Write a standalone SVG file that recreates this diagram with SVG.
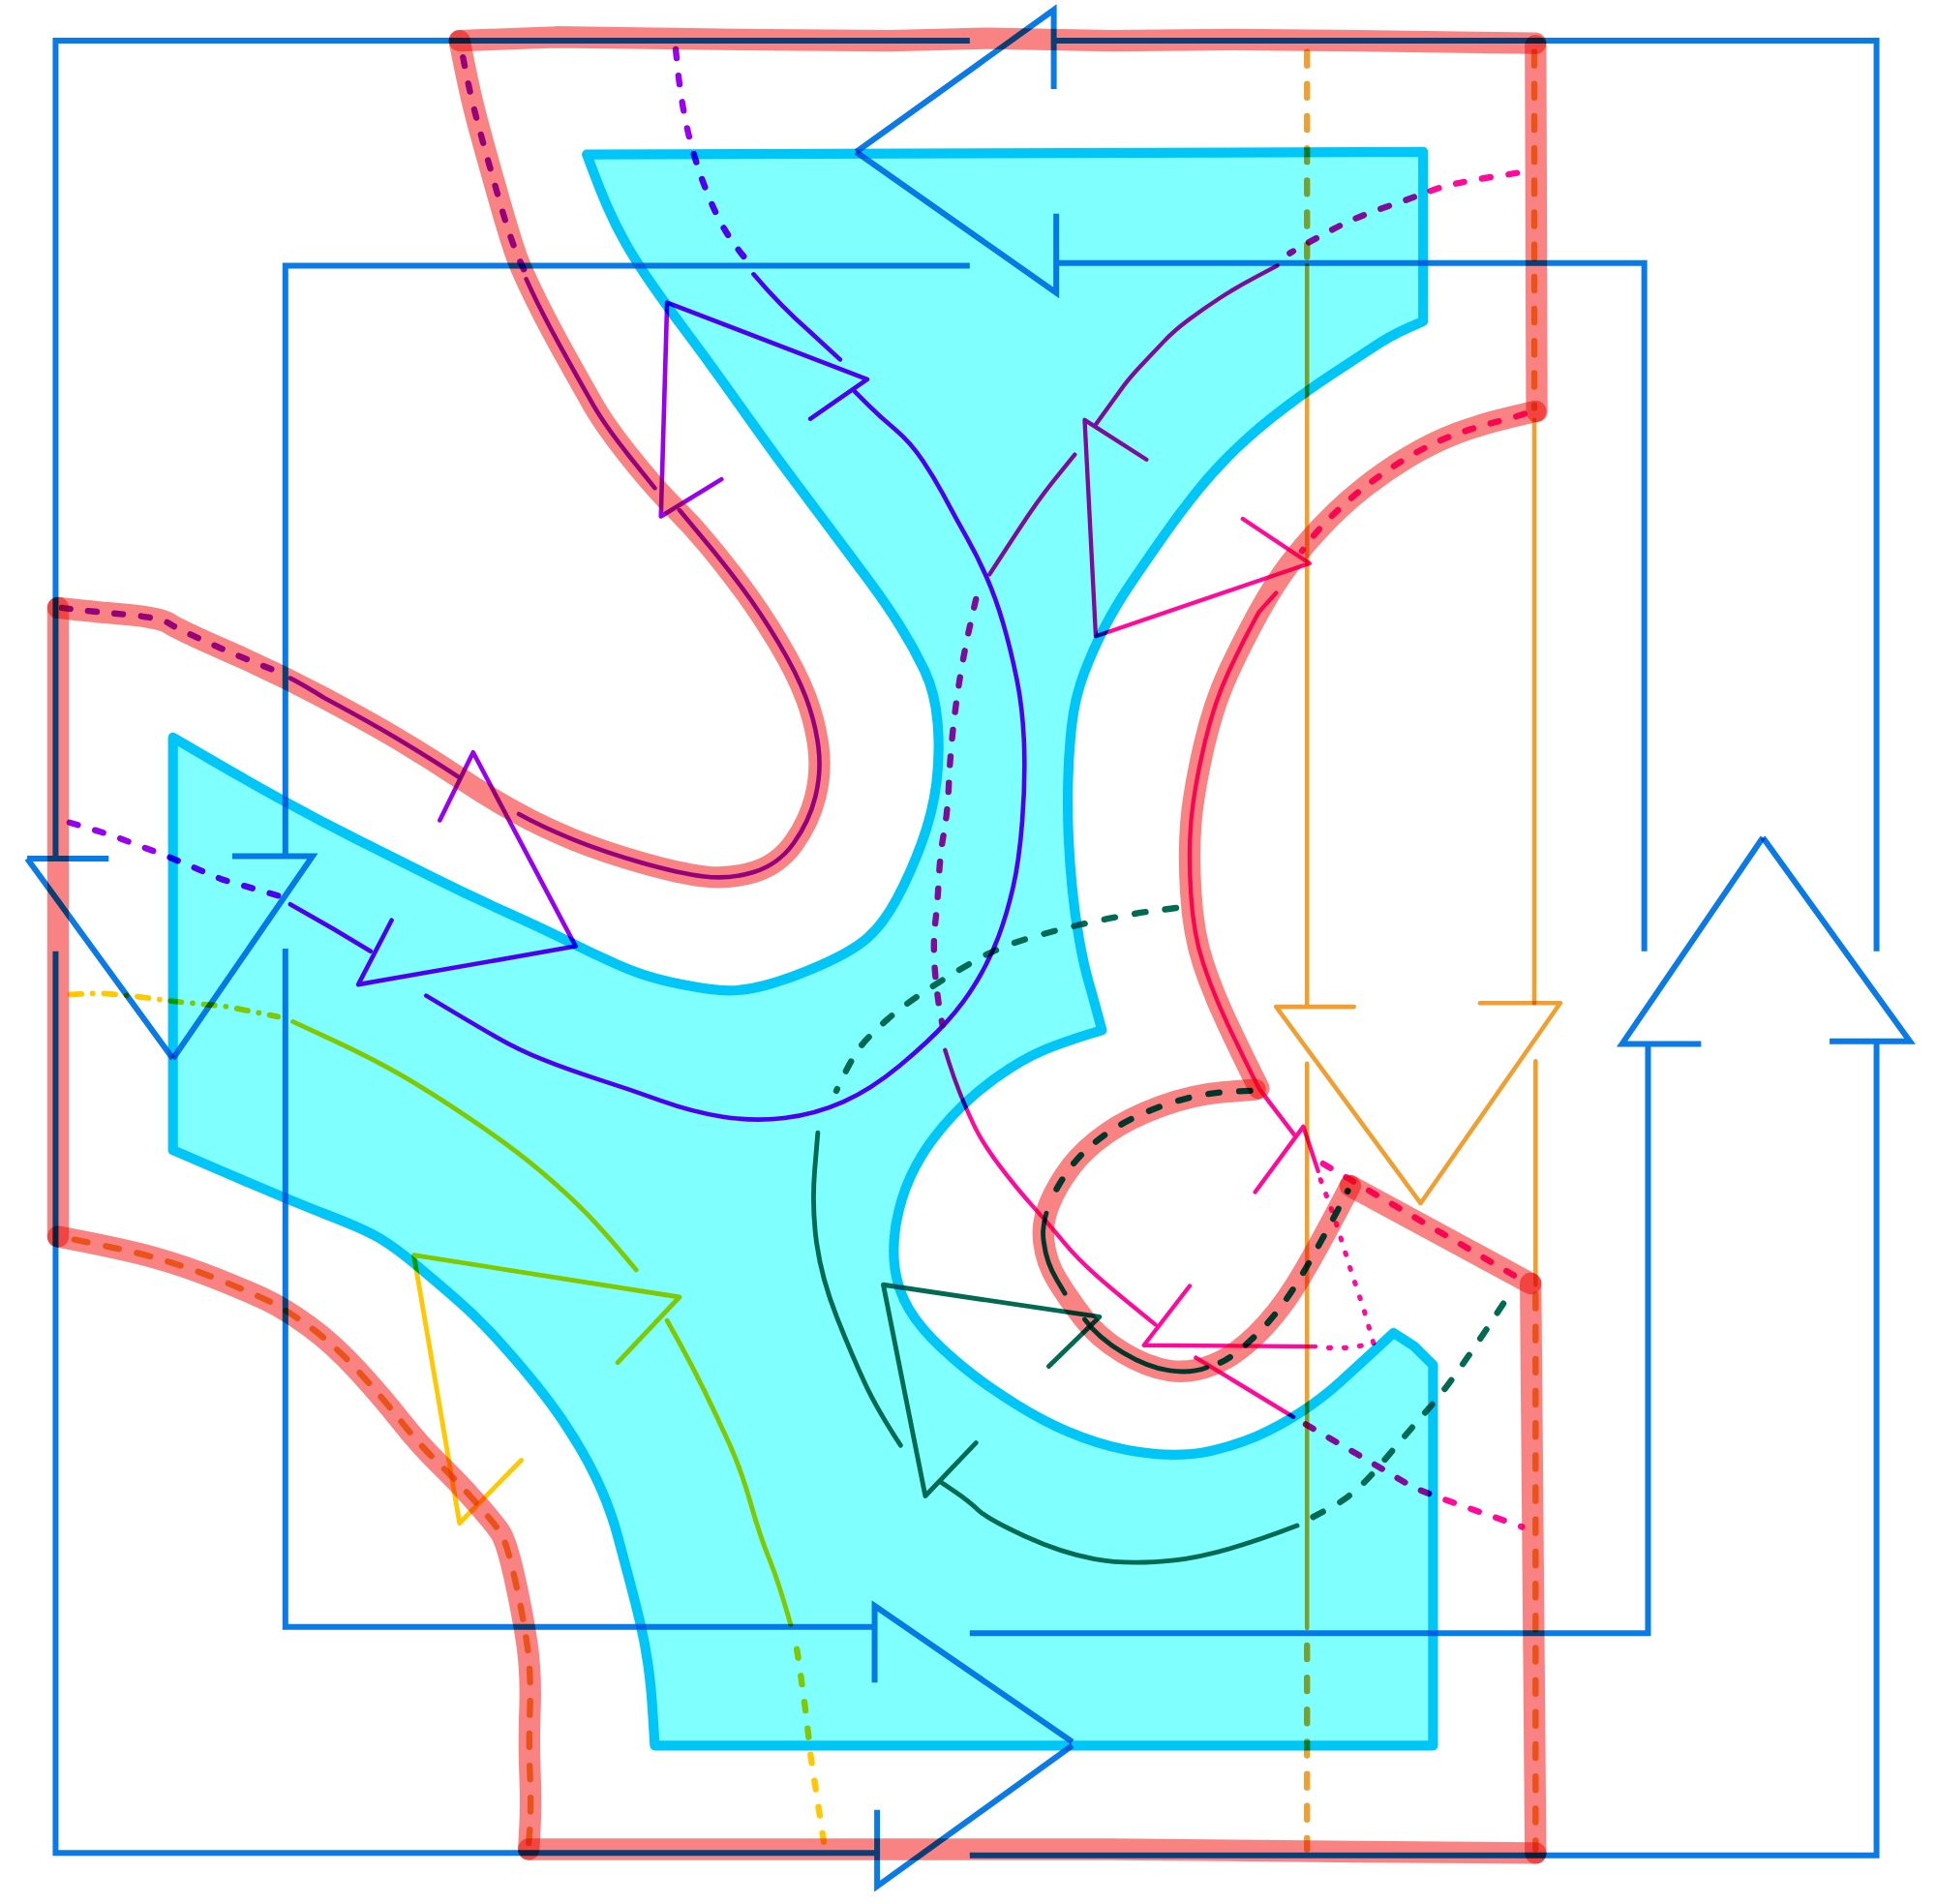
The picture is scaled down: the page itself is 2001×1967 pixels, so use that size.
<svg xmlns="http://www.w3.org/2000/svg" width="2001" height="1967" viewBox="0 0 2001 1967">
<style>
path{fill:none;stroke-linecap:round;stroke-linejoin:round;mix-blend-mode:multiply}
.cy{fill:#80ffff;stroke:#00c6f8;stroke-width:8}
.hl{stroke:#f98383;stroke-width:17.5}
.bl{stroke:#0a7ae6;stroke-width:4.7;stroke-linecap:butt;stroke-linejoin:miter}
.or{stroke:#f0a030;stroke-width:3.6}
.vi{stroke:#9a00f0;stroke-width:3.6}
.mg{stroke:#ff0a9b;stroke-width:3.4}
.gr{stroke:#006b52;stroke-width:3.8}
.ye{stroke:#ffc800;stroke-width:3.8}
.d{stroke-width:5;stroke-dasharray:7 14.5}
.or.d{stroke-dasharray:11 15}
.gr.d{stroke-dasharray:9 16}
.dt{stroke-width:4;stroke-dasharray:1.5 11}
.dd{stroke-width:4.5;stroke-dasharray:9 9 0.1 9}
</style>
<rect x="0" y="0" width="2001" height="1967" fill="#ffffff"/>
<g transform="scale(1.2762)">
<g id="cyan-shape">
<path class="cy" d="M475,125 L1152,123 L1152,260 L1138.5,266 Q1125,272 1110,282 Q1095,292 1077.5,303.5 Q1060,315 1040,330 Q1020,345 1002.5,361.5 Q985,378 970,396.5 Q955,415 940,436.5 Q925,458 914.5,473.5 Q904,489 894.5,507 Q885,525 877.5,545 Q870,565 867.5,587.5 Q865,610 864.5,634 Q864,658 865,679 Q866,700 868,720 Q870,740 873.5,760 Q877,780 881,794 Q885,808 892,834 L882,837 Q872,840 854,846.5 Q836,853 818,864.5 Q800,876 785,889.5 Q770,903 757.5,919 Q745,935 737,952.5 Q729,970 725.5,990 Q722,1010 724.5,1027.5 Q727,1045 736,1060 Q745,1075 762.5,1091.5 Q780,1108 801.5,1123 Q823,1138 843.5,1149 Q864,1160 887.5,1167.5 Q911,1175 935.5,1177 Q960,1179 980,1174.5 Q1000,1170 1017.5,1162.5 Q1035,1155 1052.5,1143.5 Q1070,1132 1085,1118.5 Q1100,1105 1128,1079 L1145,1090 L1160,1105 L1160,1413 L530,1413 L528.5,1388.5 Q527,1364 524.5,1347 Q522,1330 518.5,1315 Q515,1300 510,1281 Q505,1262 500,1243.5 Q495,1225 487.5,1207.5 Q480,1190 470,1173 Q460,1156 450,1142 Q440,1128 427.5,1113 Q415,1098 400,1081.5 Q385,1065 367.5,1050 Q350,1035 335,1022.5 Q320,1010 307.5,1002.5 Q295,995 262.5,982.5 Q230,970 140,931 L140,597 L170,614.5 Q200,632 230,648.5 Q260,665 290,680 Q320,695 350,710 Q380,725 410,738.5 Q440,752 460,762 Q480,772 500,781 Q520,790 542.5,795 Q565,800 582.5,801.5 Q600,803 620,797.5 Q640,792 665,781 Q690,770 702.5,759 Q715,748 726,727.5 Q737,707 746,682.5 Q755,658 758,634 Q761,610 759,585.5 Q757,561 748.5,543 Q740,525 729,507.5 Q718,490 704,471 Q690,452 675,432 Q660,412 645,392 Q630,372 615,351 Q600,330 585,309 Q570,288 555,268 Q540,248 527.5,230 Q515,212 506.5,197 Q498,182 491.5,167 Q485,152 475,125 Z"/>
</g>
<g id="blue-loops">
<path class="bl" d="M785,33 L45,33 L45,695 M22,695 L88,695 M22,695 L140,857 M45,770 L45,1500 L710,1500 M710,1465 L710,1527 L868,1413 M785,1502 L1519,1502 L1519,843 M1481,843 L1546,843 L1427,678 M1519,770 L1519,33 L853,33 M853,72 L853,8 L693,123"/>
<path class="bl" d="M785,215 L231,215 L231,693 M188,693 L253,693 L140,857 M231,768 L231,1317 L708,1317 M708,1362 L708,1300 L868,1410 M785,1322 L1334,1322 L1334,845 M1377,845 L1313,845 L1427,678 M1331,770 L1331,213 L855,213 M855,173 L855,237 L693,123"/>
</g>
<g id="orange">
<path class="or d" d="M1058,42 L1058,208"/>
<path class="or" d="M1058,215 L1058,815 M1033,815 L1096,815 M1033,815 L1150,974 L1263,812 M1198,812 L1263,812 M1058,861 L1058,1318"/>
<path class="or d" d="M1058,1332 L1058,1497"/>
<path class="or d" d="M1242,42 L1242,330"/>
<path class="or" d="M1242,340 L1242,812 M1243,859 L1243,1040"/>
<path class="or d" d="M1243,1048 L1243,1497"/>
<path class="or d" d="M428,1492 L429,1478.5 Q430,1460 429,1436 Q428,1412 429,1383 Q430,1354 426.5,1330 Q423,1306 416.5,1277 Q410,1248 405,1240.5 Q400,1233 385,1216 Q370,1199 355,1184.5 Q340,1170 325,1151 Q310,1132 290,1110 Q270,1088 250,1073.5 Q230,1059 215,1052 Q200,1045 175,1035 Q150,1025 125,1018 Q100,1011 52,1002"/>
</g>
<g id="violet">
<path class="vi d" d="M50,492 L61,493.5 Q75,495 102.5,497.5 Q130,500 137.5,505 Q145,510 185,527.5 Q205,536 228,545"/>
<path class="vi" d="M235,549 Q245,554 262.5,565 Q300,585 325,600 Q350,615 372,629.5 M420,659 Q440,670 465,680 Q490,690 520,698.5 Q550,707 570,709.5 Q590,712 610,706 Q630,700 642.5,682.5 Q655,665 660,645 Q665,625 662.5,605 Q660,585 652.5,565 Q645,545 630,520 Q615,495 600,475 Q585,455 572.5,440 Q560,425 550,413 M530,395 L510,370 Q490,345 480,327.5 Q470,310 457.5,287.5 Q445,265 435,245 Q430,235 426,226"/>
<path class="vi d" d="M424,218 Q415,200 405,165 Q395,130 387.5,102.5 Q380,75 374,42"/>
<path class="vi" d="M656,339 L702,307 L540,245 L535,418 L584,388 M356,664 L383,609 L466,766 L290,797 L317,745"/>
<path class="vi d" d="M547,40 L548.5,55 Q550,70 553,87.5 Q556,105 561,122.5 Q566,140 573,157.5 Q580,175 587,186.5 Q594,198 604,210"/>
<path class="vi" d="M610,222 Q632,248 655,268 L680,291 M692,317 L702,327 Q712,337 724.5,347.5 Q737,358 747,373 Q757,388 765.5,404 Q774,420 782.5,435 Q791,450 798.5,467 Q806,484 812,504.5 Q818,525 823,549.5 Q828,574 829,603 Q830,632 827.5,664.5 Q825,697 820,718.5 Q815,740 808.5,757.5 Q802,775 791.5,793 Q781,811 766.5,827 Q752,843 728.5,862.5 Q705,882 682.5,892 Q660,902 635,905 Q610,908 585,904 Q560,900 535,891 Q510,882 485,874 Q460,866 440,858 Q420,850 402.5,840 Q385,830 345,806 M300,770 L270,752 L235,732"/>
<path class="vi d" d="M225,725 L180,712 L135,693 L90,676 L47,663"/>
</g>
<g id="magenta">
<path class="mg d" d="M1228,140 L1209,143 Q1190,146 1177,149 Q1164,152 1154,156 Q1144,160 1122,167.5 Q1100,175 1085,182.5 Q1070,190 1044,205"/>
<path class="mg" d="M1034,215 L1017,224 Q1000,233 987,241.5 Q974,250 962,259 Q950,268 942,276.5 Q934,285 924.5,295 Q915,305 909.5,312.5 Q904,320 886,345 M928,372 L878,340 L887,515 L1060,456 L1006,420"/>
<path class="mg d" d="M1234,335 L1221.5,339 Q1200,344 1180,351 Q1160,358 1140,370 Q1120,382 1102.5,396 Q1085,410 1070,426 Q1060,437 1054,446"/>
<path class="mg" d="M1033,480 L1019,495.5 Q1006,519 994,545 Q982,571 974,606.5 Q966,642 964,666.5 Q962,691 964,723.5 Q966,756 974,780 Q982,804 993.5,828.5 Q1005,853 1019,881 L1048,919 M1016,965 L1055,912 L1067,948"/>
<path class="mg dt" d="M1069,955 L1080,985 L1094,1030 L1104,1060 L1112,1088 L1090,1091 L1072,1091"/>
<path class="mg d" d="M1071,942 L1235,1038"/>
<path class="mg" d="M870,368 L857,384 Q844,400 833.5,415.5 Q823,431 801,465"/>
<path class="mg d" d="M790,485 L785.5,505 Q781,525 777.5,546 Q774,567 771.5,590 Q769,613 768,635.5 Q767,658 764,674.5 Q761,691 760,710.5 Q759,730 757,747.5 Q755,765 757,788 Q759,811 763,830"/>
<path class="mg" d="M765,850 L768.5,861 Q772,872 776.5,883.5 Q781,895 788,910 Q795,925 809,943.5 Q823,962 836.5,977 Q850,992 861,1005.5 Q872,1019 888.5,1033.5 Q905,1048 935,1072 M963,1041 L926,1089 L1065,1090 M968,1099 L1047,1147"/>
<path class="mg d" d="M1057,1153 L1100,1178 L1144,1204 L1164,1212 L1232,1236"/>
</g>
<g id="green">
<path class="gr d" d="M952,735 L933,737.5 Q914,740 888,745.5 Q862,751 836,758.5 Q810,766 790.5,777 Q771,788 751,801 Q731,814 718,825.5 Q705,837 697.5,846 Q690,855 677,883"/>
<path class="gr" d="M662,917 L659.5,947 Q657,977 661,1006 Q665,1035 677.5,1066.5 Q690,1098 700,1119.5 Q710,1141 729,1170 M849,1106 L890,1066 L715,1040 L749,1211 L790,1168 M762,1200 L773,1207.5 Q784,1215 792,1222.5 Q800,1230 829.5,1243.5 Q859,1257 886,1262 Q913,1267 950.5,1263 Q988,1259 1050,1235"/>
<path class="gr d" d="M1063,1228 L1080.5,1218.5 Q1098,1209 1118.5,1184.5 Q1139,1160 1158,1138.5 Q1177,1117 1219,1052"/>
<path class="gr d" d="M1012,883 L991,884 Q966,886 940,895.5 Q914,905 896,917.5 Q878,930 867,944.5 Q856,959 849.5,974.5"/>
<path class="gr" d="M847,982 Q843,995 845,1006 Q847,1022 855.5,1036 L862,1047 M878,1068 Q889,1083 909,1095 Q929,1107 946.5,1109.5 Q964,1112 977,1107"/>
<path class="gr d" d="M988,1103 Q999,1098 1016.5,1081 Q1034,1064 1049,1040 Q1064,1016 1091,964"/>
</g>
<g id="yellow">
<path class="ye dd" d="M57,805 L80,804 Q110,806 135,810 L185,815 L225,823"/>
<path class="ye" d="M237,827 L268.5,841.5 Q300,856 325,870.5 Q350,885 382.5,907 Q415,929 437.5,948 Q460,967 475,982.5 Q490,998 515,1028 M500,1103 L550,1050 L335,1016 L372,1233 L422,1182 M540,1069 L550,1087 Q560,1105 570,1125.5 Q580,1146 590,1168 Q600,1190 607.5,1216.5 Q615,1243 622.5,1261.5 Q630,1280 640,1315"/>
<path class="ye d" d="M645,1335 Q652,1380 656,1420 L667,1492"/>
</g>
<g id="highlight">
<path class="hl" d="M372,33 L450,30 L600,32 L720,33 L800,31 L900,33 L1000,32 L1100,33 L1243,35"/>
<path class="hl" d="M1243,37 L1244,333"/>
<path class="hl" d="M1243,333 L1221.5,338 Q1200,343 1180,350.5 Q1160,358 1140,370 Q1120,382 1102.5,396 Q1085,410 1070,426 Q1055,442 1043.5,457 Q1032,472 1019,495.5 Q1006,519 994,545 Q982,571 974,606.5 Q966,642 964,666.5 Q962,691 964,723.5 Q966,756 974,780 Q982,804 993.5,828.5 Q1005,853 1019,881"/>
<path class="hl" d="M1016,882 L991,884 Q966,886 940,895.5 Q914,905 896,917.5 Q878,930 867,944.5 Q856,959 849.5,974.5 Q843,990 845,1006 Q847,1022 855.5,1036 Q864,1050 876.5,1066.5 Q889,1083 909,1095 Q929,1107 946.5,1109.5 Q964,1112 981.5,1105 Q999,1098 1016.5,1081 Q1034,1064 1049,1040 Q1064,1016 1093,960"/>
<path class="hl" d="M1093,960 L1239,1039"/>
<path class="hl" d="M1239,1039 L1243,1500"/>
<path class="hl" d="M1243,1500 L1100,1499 L900,1497 L700,1497 L428,1497"/>
<path class="hl" d="M428,1497 L429,1478.5 Q430,1460 429,1436 Q428,1412 429,1383 Q430,1354 426.5,1330 Q423,1306 416.5,1277 Q410,1248 405,1240.5 Q400,1233 385,1216 Q370,1199 355,1184.5 Q340,1170 325,1151 Q310,1132 290,1110 Q270,1088 250,1073.5 Q230,1059 215,1052 Q200,1045 175,1035 Q150,1025 125,1018 Q100,1011 47,1001"/>
<path class="hl" d="M47,1001 L47,492"/>
<path class="hl" d="M47,492 L61,493.5 Q75,495 102.5,497.5 Q130,500 137.5,505 Q145,510 185,527.5 Q225,545 262.5,565 Q300,585 325,600 Q350,615 372.5,630 Q395,645 417.5,657.5 Q440,670 465,680 Q490,690 520,698.5 Q550,707 570,709.5 Q590,712 610,706 Q630,700 642.5,682.5 Q655,665 660,645 Q665,625 662.5,605 Q660,585 652.5,565 Q645,545 630,520 Q615,495 600,475 Q585,455 572.5,440 Q560,425 545,410 Q530,395 510,370 Q490,345 480,327.5 Q470,310 457.5,287.5 Q445,265 435,245 Q425,225 420,212.5 Q415,200 405,165 Q395,130 387.5,102.5 Q380,75 372,33"/>
</g>
</g>
</svg>
